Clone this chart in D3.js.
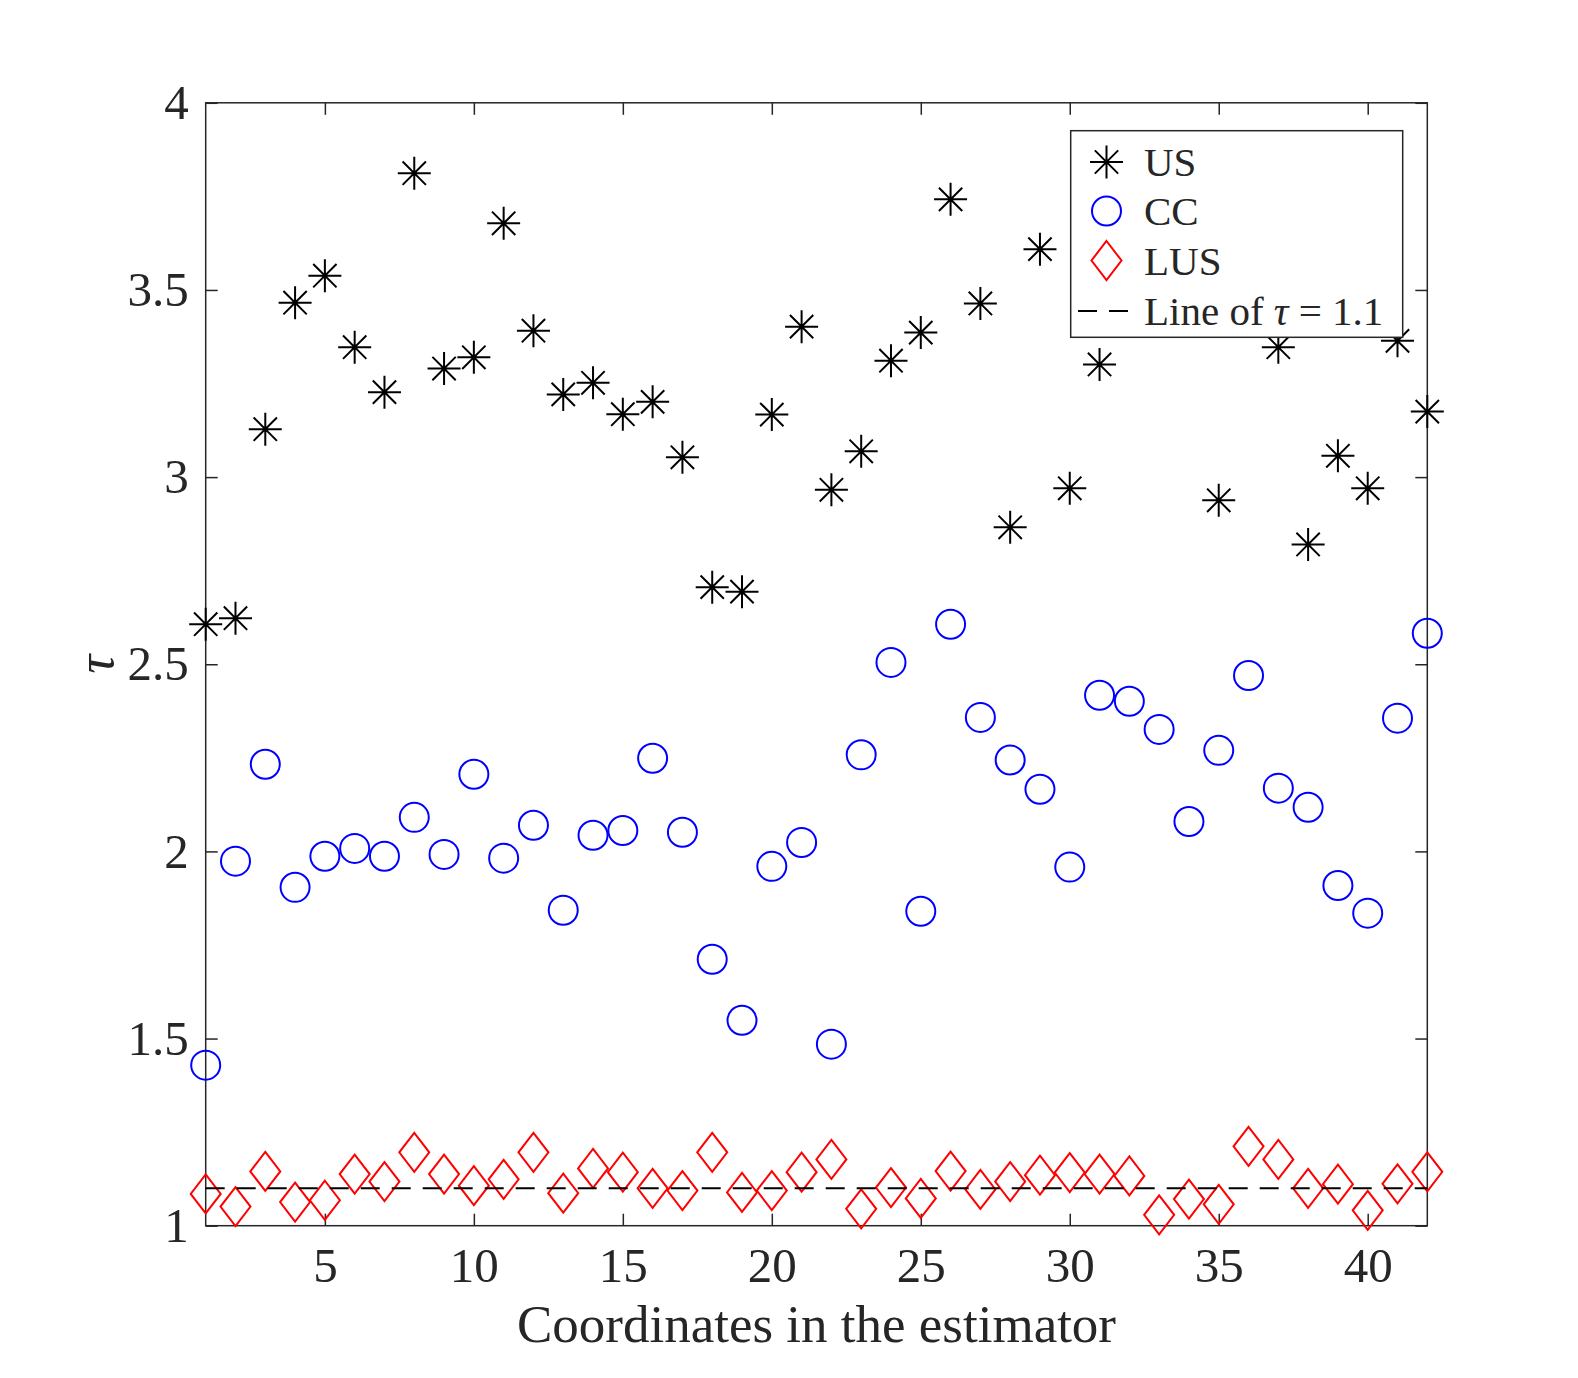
<!DOCTYPE html>
<html>
<head>
<meta charset="utf-8">
<script src="https://cdn.jsdelivr.net/npm/d3@7"></script>
<style>
  body { margin: 0; background: #fff; }
  text { font-family: "Liberation Serif", "Times New Roman", serif; fill: #262626; }
</style>
</head>
<body>
<svg id="chart" width="1578" height="1378"></svg>
<script>
const coords = [1, 2, 3, 4, 5, 6, 7, 8, 9, 10, 11, 12, 13, 14, 15, 16, 17, 18, 19, 20, 21,
    22, 23, 24, 25, 26, 27, 28, 29, 30, 31, 32, 33, 34, 35, 36, 37, 38, 39, 40, 41, 42];

// 32, 33, 34 and 36 sit behind the legend box in the original, values are guesses
const usVals = [2.607, 2.623, 3.128, 3.466, 3.538, 3.347, 3.227, 3.812, 3.290, 3.320, 3.678,
    3.391, 3.221, 3.252, 3.168, 3.201, 3.053, 2.706, 2.694, 3.167, 3.402, 2.966, 3.069, 3.311,
    3.386, 3.742, 3.464, 2.866, 3.609, 2.970, 3.301, 3.55, 3.72, 3.48, 2.938, 3.62, 3.347,
    2.820, 3.057, 2.970, 3.364, 3.175];
const ccVals = [1.429, 1.974, 2.233, 1.904, 1.987, 2.008, 1.987, 2.091, 1.992, 2.206, 1.982,
    2.070, 1.843, 2.043, 2.056, 2.249, 2.051, 1.712, 1.549, 1.960, 2.024, 1.485, 2.258, 2.505,
    1.840, 2.607, 2.358, 2.244, 2.166, 1.958, 2.417, 2.401, 2.326, 2.080, 2.270, 2.470, 2.169,
    2.118, 1.909, 1.835, 2.356, 2.583];
const lusVals = [1.085, 1.051, 1.145, 1.063, 1.068, 1.138, 1.118, 1.196, 1.138, 1.107, 1.124,
    1.196, 1.087, 1.153, 1.143, 1.100, 1.094, 1.196, 1.089, 1.094, 1.143, 1.177, 1.045, 1.102,
    1.073, 1.146, 1.097, 1.118, 1.135, 1.142, 1.138, 1.133, 1.029, 1.071, 1.057, 1.212, 1.177,
    1.100, 1.111, 1.041, 1.112, 1.144];
const refLevel = 1.1;

const xTicks = [5, 10, 15, 20, 25, 30, 35, 40];
const yTicks = [1, 1.5, 2, 2.5, 3, 3.5, 4];
const xLabel = 'Coordinates in the estimator';
const legendNames = ['US', 'CC', 'LUS'];

const plot = { left: 205.7, right: 1427.3, top: 102.8, bottom: 1225.7 };
const tickLen = 12;
const axisColor = '#262626';

const svg = d3.select('#chart');

var x = d3.scaleLinear()
    .domain([1, 42])
    .range([plot.left, plot.right]);

var y = d3.scaleLinear()
    .domain([1, 4])
    .range([plot.bottom, plot.top]);

// marker shapes (path strings centred on 0,0)
function asteriskPath(r) {
    var d = r * Math.SQRT1_2;
    return 'M' + (-r) + ',0H' + r + 'M0,' + (-r) + 'V' + r +
        'M' + (-d) + ',' + (-d) + 'L' + d + ',' + d +
        'M' + (-d) + ',' + d + 'L' + d + ',' + (-d);
}
function diamondPath(w, h) {
    return 'M0,' + (-h) + 'L' + w + ',0L0,' + h + 'L' + (-w) + ',0Z';
}

// axes box with inward ticks on all four sides
svg.append('rect')
    .attr('x', plot.left)
    .attr('y', plot.top)
    .attr('width', plot.right - plot.left)
    .attr('height', plot.bottom - plot.top)
    .attr('fill', 'none')
    .attr('stroke', axisColor)
    .attr('stroke-width', 1.5);

function styleAxis(g) {
    g.select('.domain').remove();
    g.selectAll('.tick line').attr('stroke', axisColor).attr('stroke-width', 1.5);
    g.selectAll('.tick text')
        .style('font-size', '49px')
        .attr('fill', axisColor);
}

svg.append('g')
    .attr('class', 'x axis')
    .attr('transform', 'translate(0,' + plot.bottom + ')')
    .call(d3.axisBottom(x).tickValues(xTicks).tickSize(-tickLen).tickPadding(22).tickFormat(d3.format('d')))
    .call(styleAxis);

svg.append('g')
    .attr('transform', 'translate(0,' + plot.top + ')')
    .call(d3.axisTop(x).tickValues(xTicks).tickSize(-tickLen).tickFormat(''))
    .call(styleAxis);

svg.append('g')
    .attr('class', 'y axis')
    .attr('transform', 'translate(' + plot.left + ',0)')
    .call(d3.axisLeft(y).tickValues(yTicks).tickSize(-tickLen).tickPadding(17).tickFormat(d3.format('')))
    .call(styleAxis);

svg.append('g')
    .attr('transform', 'translate(' + plot.right + ',0)')
    .call(d3.axisRight(y).tickValues(yTicks).tickSize(-tickLen).tickFormat(''))
    .call(styleAxis);

// axis labels
svg.append('text')
    .attr('x', (plot.left + plot.right) / 2)
    .attr('y', 1342)
    .attr('text-anchor', 'middle')
    .style('font-size', '53px')
    .text(xLabel);

svg.append('text')
    .attr('transform', 'translate(113,' + ((plot.top + plot.bottom) / 2) + ') rotate(-90)')
    .attr('text-anchor', 'middle')
    .style('font-size', '53px')
    .style('font-style', 'italic')
    .text('τ');

// data marks
svg.append('g').selectAll('path')
    .data(coords)
    .enter().append('path')
    .attr('d', asteriskPath(16.5))
    .attr('transform', (d, i) => 'translate(' + x(d) + ',' + y(usVals[i]) + ')')
    .attr('stroke', '#000')
    .attr('stroke-width', 2)
    .attr('fill', 'none');

svg.append('g').selectAll('circle')
    .data(coords)
    .enter().append('circle')
    .attr('cx', d => x(d))
    .attr('cy', (d, i) => y(ccVals[i]))
    .attr('r', 14.5)
    .attr('stroke', '#0000ff')
    .attr('stroke-width', 2)
    .attr('fill', 'none');

svg.append('g').selectAll('path')
    .data(coords)
    .enter().append('path')
    .attr('d', diamondPath(15, 19.5))
    .attr('transform', (d, i) => 'translate(' + x(d) + ',' + y(lusVals[i]) + ')')
    .attr('stroke', '#ff0000')
    .attr('stroke-width', 2)
    .attr('fill', 'none');

svg.append('line')
    .attr('x1', x(coords[0]))
    .attr('x2', x(coords[coords.length - 1]))
    .attr('y1', y(refLevel))
    .attr('y2', y(refLevel))
    .attr('stroke', '#000')
    .attr('stroke-width', 2)
    .attr('stroke-dasharray', '19,12');

// legend
var legend = svg.append('g').attr('class', 'legend');
legend.append('rect')
    .attr('x', 1070.7)
    .attr('y', 130.7)
    .attr('width', 332)
    .attr('height', 206.6)
    .attr('fill', '#fff')
    .attr('stroke', axisColor)
    .attr('stroke-width', 1.5);

var rowY = [162, 211, 260.5, 311];
var mx = 1106.5, tx = 1144;

legend.append('path')
    .attr('d', asteriskPath(16.5))
    .attr('transform', 'translate(' + mx + ',' + rowY[0] + ')')
    .attr('stroke', '#000').attr('stroke-width', 2).attr('fill', 'none');
legend.append('circle')
    .attr('cx', mx).attr('cy', rowY[1]).attr('r', 14.5)
    .attr('stroke', '#0000ff').attr('stroke-width', 2).attr('fill', 'none');
legend.append('path')
    .attr('d', diamondPath(15, 19.5))
    .attr('transform', 'translate(' + mx + ',' + rowY[2] + ')')
    .attr('stroke', '#ff0000').attr('stroke-width', 2).attr('fill', 'none');
legend.append('line')
    .attr('x1', 1078).attr('x2', 1131)
    .attr('y1', rowY[3]).attr('y2', rowY[3])
    .attr('stroke', '#000').attr('stroke-width', 2)
    .attr('stroke-dasharray', '19,12');

legendNames.forEach((name, i) => {
    legend.append('text')
        .attr('x', tx)
        .attr('y', rowY[i])
        .attr('dy', '0.35em')
        .style('font-size', '41px')
        .text(name);
});

var lineText = legend.append('text')
    .attr('x', tx)
    .attr('y', rowY[3])
    .attr('dy', '0.35em')
    .style('font-size', '41px');
lineText.append('tspan').text('Line of ');
lineText.append('tspan').style('font-style', 'italic').text('τ');
lineText.append('tspan').text(' = ' + refLevel);
</script>
</body>
</html>
